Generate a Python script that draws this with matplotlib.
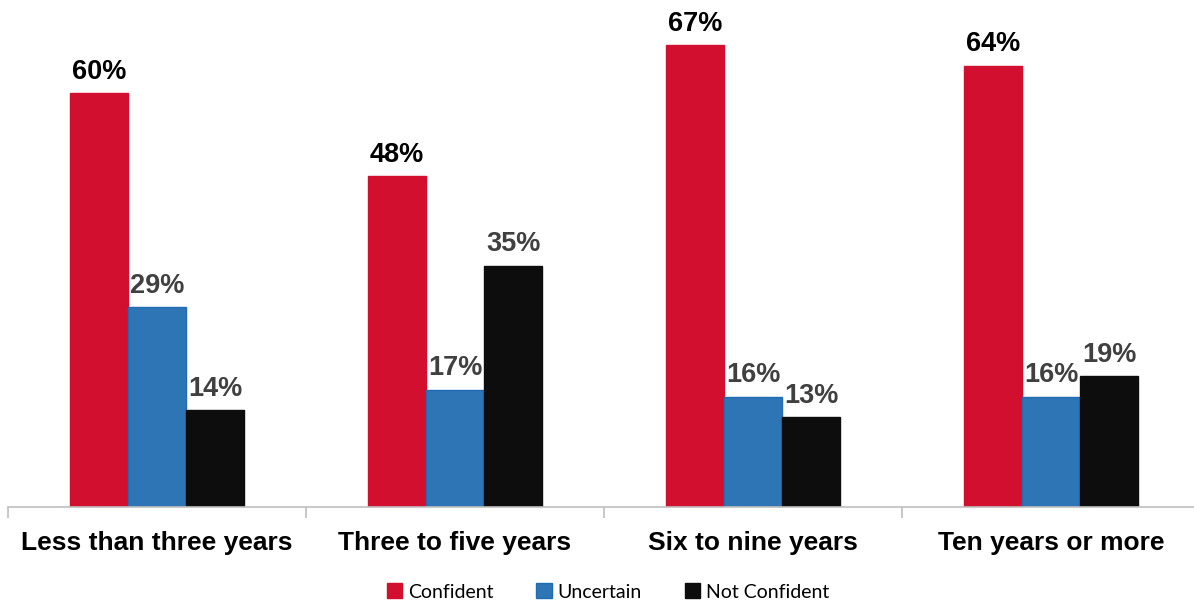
import matplotlib.pyplot as plt
import numpy as np

categories = ['Less than three years', 'Three to five years', 'Six to nine years', 'Ten years or more']
confident = [60, 48, 67, 64]
uncertain = [29, 17, 16, 16]
not_confident = [14, 35, 13, 19]

series = [
    ('Confident', confident, '#D20F2E', '#D20F2E', 'black'),
    ('Uncertain', uncertain, '#2E75B6', '#1F6CB5', '#404040'),
    ('Not Confident', not_confident, '#0D0D0D', '#0D0D0D', '#404040'),
]

plt.rcParams['font.family'] = ['Liberation Sans', 'DejaVu Sans']

fig = plt.figure(figsize=(11.94, 6.05), dpi=100)
ax = fig.add_axes([8 / 1194, 1 - 507 / 605, 1192 / 1194, 507 / 605])

x = np.arange(len(categories))
w = 0.195
for i, (name, vals, color, edge, lcolor) in enumerate(series):
    pos = x + (i - 1) * w
    bars = ax.bar(pos, vals, w, color=color, edgecolor=edge, linewidth=1, label=name)
    for b, v in zip(bars, vals):
        ax.annotate(f'{v}%', (b.get_x() + b.get_width() / 2, v),
                    xytext=(0, 6), textcoords='offset points',
                    ha='center', va='bottom', fontsize=19.5, fontweight='bold',
                    color=lcolor)

ax.set_xlim(-0.5, 3.5)
ax.set_ylim(0, 73.5)
ax.set_yticks([])
for s in ['top', 'right', 'left']:
    ax.spines[s].set_visible(False)
ax.spines['bottom'].set_color('#BFBFBF')
ax.spines['bottom'].set_linewidth(1.2)

ax.set_xticks(np.arange(-0.5, 4, 1.0), minor=False)
ax.set_xticklabels([])
ax.tick_params(axis='x', which='major', length=8, color='#BFBFBF', width=1.2)
ax.set_xticks(x, minor=True)
ax.set_xticklabels(categories, minor=True, fontsize=19, fontweight='bold')
ax.tick_params(axis='x', which='minor', length=0, pad=17)

leg = fig.legend(loc='center', bbox_to_anchor=(608 / 1194, 1 - 592 / 605), ncol=3,
                 frameon=False, handlelength=0.8, handleheight=0.8, handletextpad=0.3,
                 columnspacing=2.2, prop={'family': 'Lato', 'size': 14})

fig.savefig('out.png', dpi=100)
